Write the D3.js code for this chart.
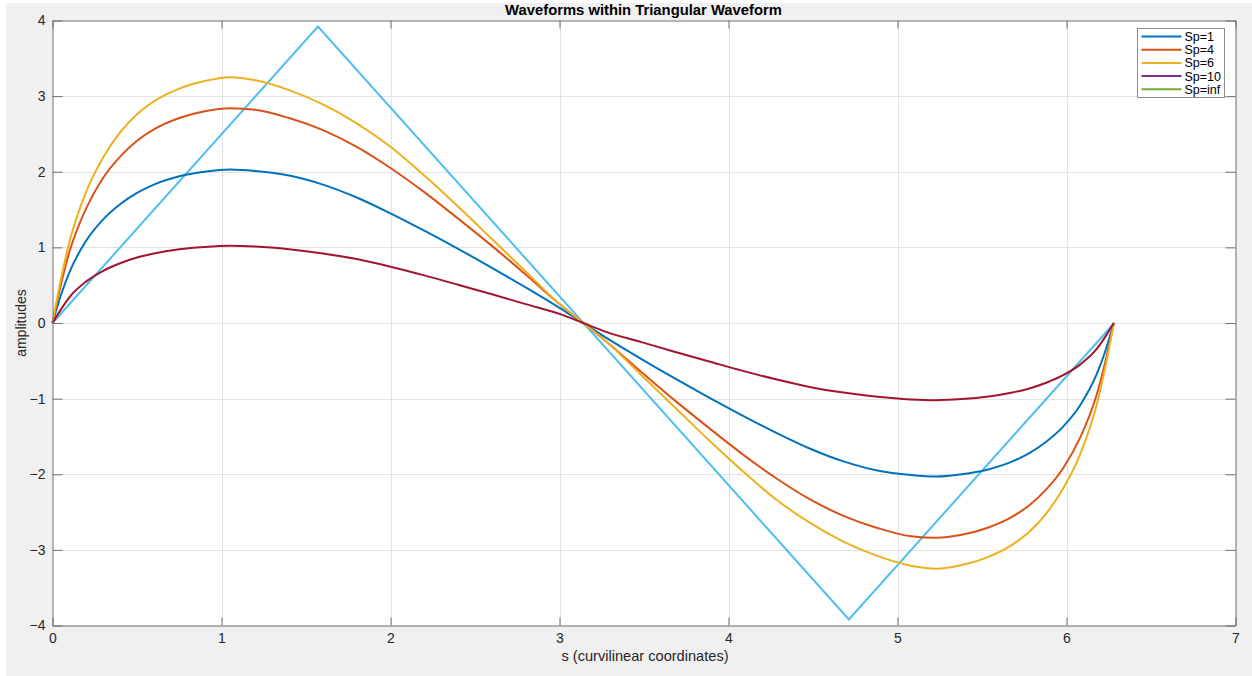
<!DOCTYPE html>
<html>
<head>
<meta charset="utf-8">
<script src="https://cdn.jsdelivr.net/npm/d3@7"></script>
<style>
  body { margin: 0; background: #ffffff; }
  svg { display: block; }
  text { font-family: "Liberation Sans", Arial, sans-serif; }
</style>
</head>
<body>
<svg id="chart" width="1252" height="676"></svg>
<script>
// DATA
var sValues = [0, 0.05, 0.1, 0.2, 0.3, 0.4, 0.5, 0.6, 0.75, 0.9, 1.05, 1.2, 1.4, 1.6, 1.8, 2.0, 2.2, 2.4, 2.6, 2.8, 3.0, 3.14,
    3.28, 3.48, 3.68, 3.88, 4.08, 4.28, 4.48, 4.68, 4.88, 5.08, 5.23, 5.38, 5.53, 5.68, 5.78, 5.88, 5.98, 6.08, 6.18, 6.23, 6.28];
var sp1 = [0, 0.37, 0.67, 1.09, 1.37, 1.57, 1.72, 1.83, 1.94, 2.0, 2.03, 2.01, 1.95, 1.83, 1.66, 1.45, 1.22, 0.98, 0.73, 0.47, 0.2, 0,
    -0.2, -0.47, -0.73, -0.98, -1.22, -1.45, -1.66, -1.83, -1.95, -2.01, -2.03, -2.0, -1.94, -1.83, -1.72, -1.57, -1.37, -1.09, -0.67, -0.37, 0];
var sp4 = [0, 0.51, 0.94, 1.52, 1.92, 2.2, 2.41, 2.56, 2.71, 2.8, 2.84, 2.82, 2.71, 2.55, 2.33, 2.05, 1.73, 1.38, 1.02, 0.64, 0.25, 0,
    -0.25, -0.64, -1.02, -1.38, -1.73, -2.05, -2.33, -2.55, -2.71, -2.82, -2.84, -2.8, -2.71, -2.56, -2.41, -2.2, -1.92, -1.52, -0.94, -0.51, 0];
var sp6 = [0, 0.58, 1.07, 1.74, 2.19, 2.52, 2.76, 2.93, 3.1, 3.2, 3.25, 3.21, 3.08, 2.89, 2.64, 2.33, 1.95, 1.54, 1.11, 0.68, 0.25, 0,
    -0.25, -0.68, -1.11, -1.54, -1.95, -2.33, -2.64, -2.89, -3.08, -3.21, -3.25, -3.2, -3.1, -2.93, -2.76, -2.52, -2.19, -1.74, -1.07, -0.58, 0];
var sp10 = [0, 0.18, 0.34, 0.55, 0.69, 0.79, 0.865, 0.92, 0.975, 1.005, 1.02, 1.01, 0.975, 0.92, 0.845, 0.745, 0.63, 0.505, 0.38, 0.25, 0.12, 0,
    -0.12, -0.25, -0.38, -0.505, -0.63, -0.745, -0.845, -0.92, -0.975, -1.01, -1.02, -1.005, -0.975, -0.92, -0.865, -0.79, -0.69, -0.55, -0.34, -0.18, 0];
var triS = [0, 1.5708, 4.7124, 6.2832];
var triValues = [0, 3.92, -3.92, 0];

var xTicks = [0, 1, 2, 3, 4, 5, 6, 7];
var yTicks = [-4, -3, -2, -1, 0, 1, 2, 3, 4];
var legendLabels = ["Sp=1", "Sp=4", "Sp=6", "Sp=10", "Sp=inf"];
var legendColors = ["#0072BD", "#D95319", "#EDB120", "#7E2F8E", "#77AC30"];

// CANVAS
var svg = d3.select("#chart");
var margin = { left: 52.5, right: 1235.5, top: 20.5, bottom: 625.5 };

// figure background
svg.append("rect").attr("x", 6).attr("y", 3).attr("width", 1246).attr("height", 673).attr("fill", "#f0f0f0");
svg.append("rect")
    .attr("x", margin.left).attr("y", margin.top)
    .attr("width", margin.right - margin.left).attr("height", margin.bottom - margin.top)
    .attr("fill", "#ffffff");

var x = d3.scaleLinear().domain([0, 7]).range([margin.left, margin.right]);
var y = d3.scaleLinear().domain([-4, 4]).range([margin.bottom, margin.top]);

// GRID
svg.append("g").selectAll("line").data(xTicks.slice(1, -1)).join("line")
    .attr("x1", function (d) { return Math.round(x(d)) + 0.5; })
    .attr("x2", function (d) { return Math.round(x(d)) + 0.5; })
    .attr("y1", margin.top).attr("y2", margin.bottom)
    .attr("stroke", "#e3e3e3").attr("stroke-width", 1);
svg.append("g").selectAll("line").data(yTicks.slice(1, -1)).join("line")
    .attr("y1", function (d) { return Math.round(y(d)) + 0.5; })
    .attr("y2", function (d) { return Math.round(y(d)) + 0.5; })
    .attr("x1", margin.left).attr("x2", margin.right)
    .attr("stroke", "#e3e3e3").attr("stroke-width", 1);

// LINES
var line = d3.line()
    .x(function (d) { return x(d[0]); })
    .y(function (d) { return y(d[1]); })
    .curve(d3.curveMonotoneX);

var series = [
    { values: sp1, color: "#0072BD" },
    { values: sp4, color: "#D95319" },
    { values: sp6, color: "#EDB120" },
    { values: sp10, color: "#A2142F" }
];

var plot = svg.append("g");
plot.append("path")
    .datum(d3.zip(triS, triValues))
    .attr("d", d3.line().x(function (d) { return x(d[0]); }).y(function (d) { return y(d[1]); }))
    .attr("fill", "none").attr("stroke", "#4DBEEE").attr("stroke-width", 2);

series.forEach(function (sr) {
    plot.append("path")
        .datum(d3.zip(sValues, sr.values))
        .attr("d", line)
        .attr("fill", "none")
        .attr("stroke", sr.color)
        .attr("stroke-width", 2);
});

// AXES (box with inward ticks on all sides)
var axisColor = "#6e6e6e";
var fmt = d3.format("d");
svg.append("g").attr("transform", "translate(0," + margin.bottom + ")")
    .call(d3.axisBottom(x).tickValues(xTicks).tickFormat(fmt).tickSizeInner(-8).tickSizeOuter(0).tickPadding(8))
    .call(styleAxis);
svg.append("g").attr("transform", "translate(0," + margin.top + ")")
    .call(d3.axisTop(x).tickValues(xTicks).tickSizeInner(-8).tickSizeOuter(0).tickFormat(""))
    .call(styleAxis);
svg.append("g").attr("transform", "translate(" + margin.left + ",0)")
    .call(d3.axisLeft(y).tickValues(yTicks).tickFormat(fmt).tickSizeInner(-10).tickSizeOuter(0).tickPadding(7))
    .call(styleAxis);
svg.append("g").attr("transform", "translate(" + margin.right + ",0)")
    .call(d3.axisRight(y).tickValues(yTicks).tickSizeInner(-10).tickSizeOuter(0).tickFormat(""))
    .call(styleAxis);

function styleAxis(g) {
    g.select(".domain").attr("stroke", axisColor);
    g.selectAll(".tick line").attr("stroke", axisColor);
    g.selectAll("text").attr("fill", "#262626").style("font-size", "14px")
        .style("font-family", "'Liberation Sans', Arial, sans-serif");
}

// TITLES
svg.append("text")
    .attr("x", 643.5).attr("y", 15)
    .attr("text-anchor", "middle")
    .style("font-size", "14.8px").style("font-weight", "bold")
    .attr("fill", "#000000")
    .text("Waveforms within Triangular Waveform");
svg.append("text")
    .attr("x", 645).attr("y", 661)
    .attr("text-anchor", "middle")
    .style("font-size", "14.6px")
    .attr("fill", "#262626")
    .text("s (curvilinear coordinates)");
svg.append("text")
    .attr("transform", "translate(26,323) rotate(-90)")
    .attr("text-anchor", "middle")
    .style("font-size", "14px")
    .attr("fill", "#262626")
    .text("amplitudes");

// LEGEND
var legend = svg.append("g").attr("transform", "translate(1137.5,28.5)");
legend.append("rect")
    .attr("width", 87).attr("height", 69)
    .attr("fill", "#ffffff").attr("stroke", "#8c8c8c").attr("stroke-width", 1);
var rows = legend.selectAll("g.row").data(legendLabels).join("g")
    .attr("class", "row")
    .attr("transform", function (d, i) { return "translate(0," + (8 + i * 13.2) + ")"; });
rows.append("line")
    .attr("x1", 4).attr("x2", 44)
    .attr("stroke", function (d, i) { return legendColors[i]; })
    .attr("stroke-width", 2);
rows.append("text")
    .attr("x", 47).attr("y", 4.5)
    .style("font-size", "12.5px")
    .attr("fill", "#000000")
    .text(function (d) { return d; });
</script>
</body>
</html>
